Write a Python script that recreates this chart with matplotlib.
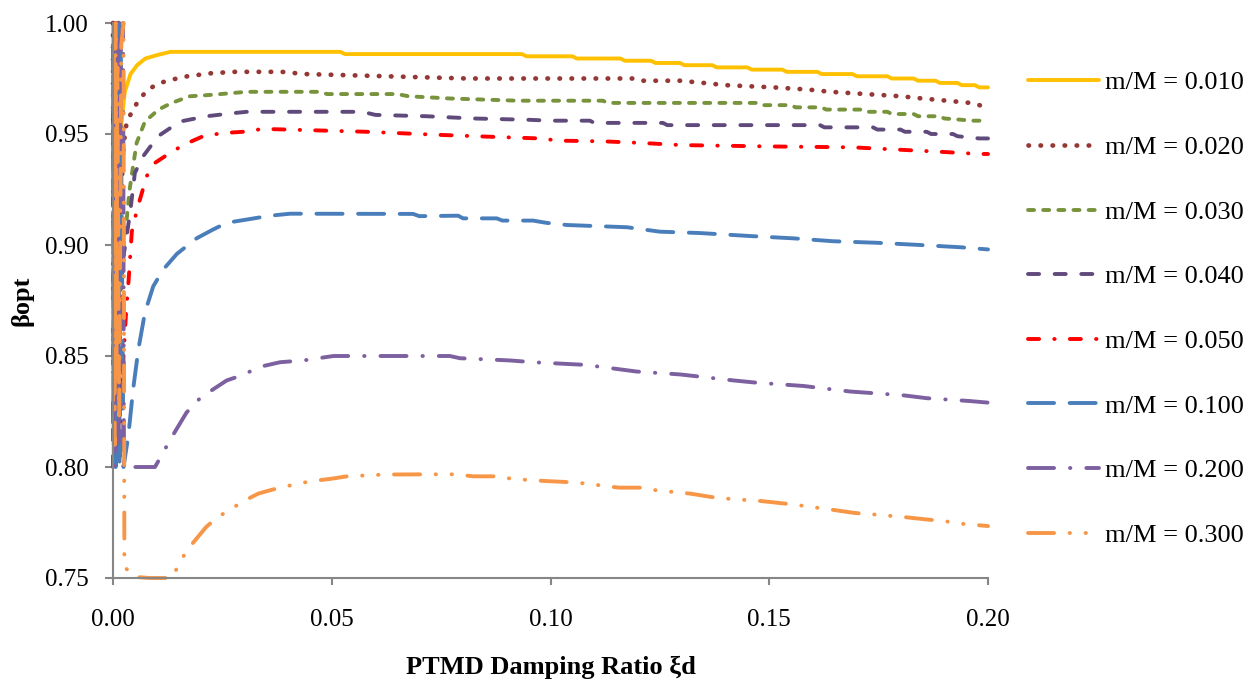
import matplotlib
matplotlib.use("Agg")
import matplotlib.pyplot as plt

plt.rcParams['font.family'] = ['Liberation Serif', 'DejaVu Serif']

# mass ratios and optimum frequency ratio vs damping ratio
labels = ['m/M = 0.010', 'm/M = 0.020', 'm/M = 0.030', 'm/M = 0.040',
          'm/M = 0.050', 'm/M = 0.100', 'm/M = 0.200', 'm/M = 0.300']

x_010 = [0.0000, 0.0002, 0.0004, 0.0006, 0.0008, 0.0010, 0.0013, 0.0017, 0.0021, 0.0027, 0.0040, 0.0055, 0.0074, 0.0100,
         0.0131, 0.0155, 0.0520, 0.0530, 0.0935, 0.0945, 0.1050, 0.1060, 0.1160, 0.1170, 0.1230, 0.1240, 0.1296, 0.1306,
         0.1370, 0.1380, 0.1450, 0.1460, 0.1530, 0.1540, 0.1610, 0.1620, 0.1690, 0.1700, 0.1770, 0.1780, 0.1830, 0.1840,
         0.1880, 0.1890, 0.1930, 0.1940, 0.1970, 0.1980, 0.2000]
y_010 = [1.000, 0.935, 1.000, 0.945, 0.995, 0.950, 1.000, 0.950, 0.958, 0.969, 0.977, 0.981, 0.984, 0.9855,
         0.987, 0.987, 0.987, 0.986, 0.986, 0.985, 0.985, 0.984, 0.984, 0.983, 0.983, 0.982, 0.982, 0.981,
         0.981, 0.980, 0.980, 0.979, 0.979, 0.978, 0.978, 0.977, 0.977, 0.976, 0.976, 0.975, 0.975, 0.974,
         0.974, 0.973, 0.973, 0.972, 0.972, 0.971, 0.971]

x_020 = [0.0000, 0.0002, 0.0004, 0.0006, 0.0008, 0.0010, 0.0013, 0.0018, 0.0024, 0.0031, 0.0043, 0.0058, 0.0075, 0.0096,
         0.0123, 0.0170, 0.0226, 0.0279, 0.0386, 0.0439, 0.0626, 0.0810, 0.1190, 0.1205, 0.1296, 0.1350, 0.1400, 0.1510,
         0.1590, 0.1640, 0.1720, 0.1800, 0.1850, 0.1906, 0.1960, 0.1980, 0.2000]
y_020 = [1.000, 0.820, 0.990, 0.800, 0.970, 0.830, 1.000, 0.920, 0.945, 0.955, 0.960, 0.965, 0.969, 0.972,
         0.974, 0.976, 0.9774, 0.978, 0.978, 0.977, 0.976, 0.975, 0.975, 0.974, 0.974, 0.973, 0.972, 0.971,
         0.970, 0.969, 0.968, 0.967, 0.966, 0.965, 0.964, 0.963, 0.962]

x_030 = [0.0000, 0.0002, 0.0004, 0.0006, 0.0008, 0.0010, 0.0013, 0.0018, 0.0024, 0.0032, 0.0038, 0.0047, 0.0054, 0.0073,
         0.0104, 0.0134, 0.0176, 0.0222, 0.0306, 0.0466, 0.0490, 0.0650, 0.0675, 0.0770, 0.0926, 0.1120, 0.1130, 0.1470,
         0.1480, 0.1550, 0.1560, 0.1620, 0.1630, 0.1710, 0.1720, 0.1770, 0.1780, 0.1830, 0.1840, 0.1890, 0.1900, 0.1966,
         0.2000]
y_030 = [0.990, 0.810, 1.000, 0.800, 0.980, 0.820, 0.970, 0.880, 0.900, 0.913, 0.925, 0.937, 0.946, 0.9556,
         0.961, 0.964, 0.967, 0.9676, 0.969, 0.969, 0.968, 0.968, 0.967, 0.966, 0.965, 0.965, 0.964, 0.964,
         0.963, 0.963, 0.962, 0.962, 0.961, 0.961, 0.960, 0.960, 0.959, 0.959, 0.958, 0.958, 0.957, 0.956,
         0.956]

x_040 = [0.0000, 0.0002, 0.0004, 0.0006, 0.0008, 0.0010, 0.0013, 0.0018, 0.0024, 0.0032, 0.0040, 0.0050, 0.0069, 0.0103,
         0.0153, 0.0214, 0.0275, 0.0306, 0.0570, 0.0600, 0.0717, 0.0823, 0.0950, 0.1000, 0.1090, 0.1100, 0.1257, 0.1267,
         0.1616, 0.1626, 0.1737, 0.1747, 0.1800, 0.1810, 0.1860, 0.1870, 0.1920, 0.1930, 0.1980, 0.2000]
y_040 = [0.800, 0.980, 0.810, 1.000, 0.800, 0.960, 0.830, 0.900, 0.895, 0.905, 0.916, 0.9325, 0.940, 0.949,
         0.9556, 0.958, 0.9594, 0.960, 0.960, 0.9586, 0.958, 0.957, 0.9564, 0.956, 0.956, 0.955, 0.955, 0.954,
         0.954, 0.953, 0.953, 0.952, 0.952, 0.951, 0.951, 0.950, 0.950, 0.949, 0.948, 0.948]

x_050 = [0.0000, 0.0002, 0.0004, 0.0006, 0.0008, 0.0010, 0.0013, 0.0018, 0.0024, 0.0030, 0.0036, 0.0043, 0.0055, 0.0077,
         0.0096, 0.0119, 0.0160, 0.0206, 0.0250, 0.0297, 0.0343, 0.0580, 0.0747, 0.0885, 0.0976, 0.1020, 0.1120, 0.1205,
         0.1300, 0.1500, 0.1690, 0.1790, 0.1890, 0.1980, 0.2000]
y_050 = [0.960, 0.800, 1.000, 0.820, 0.990, 0.800, 0.950, 0.820, 0.850, 0.870, 0.885, 0.906, 0.916, 0.931,
         0.937, 0.940, 0.945, 0.949, 0.9504, 0.951, 0.9523, 0.951, 0.9496, 0.9486, 0.948, 0.947, 0.9467, 0.946,
         0.945, 0.9444, 0.944, 0.943, 0.942, 0.941, 0.941]

x_100 = [0.0000, 0.0002, 0.0004, 0.0006, 0.0008, 0.0010, 0.0013, 0.0015, 0.0017, 0.0024, 0.0035, 0.0046, 0.0058, 0.0073,
         0.0092, 0.0115, 0.0146, 0.0191, 0.0229, 0.0260, 0.0313, 0.0359, 0.0405, 0.0686, 0.0700, 0.0789, 0.0800, 0.0877,
         0.0890, 0.0960, 0.0990, 0.1038, 0.1175, 0.1250, 0.1340, 0.1460, 0.1555, 0.1646, 0.1746, 0.1845, 0.1936, 0.2000]
y_100 = [0.990, 0.810, 1.000, 0.800, 0.970, 0.820, 1.000, 0.800, 0.990, 0.800, 0.814, 0.835, 0.853, 0.8696,
         0.8814, 0.889, 0.896, 0.903, 0.907, 0.910, 0.9117, 0.9132, 0.9141, 0.914, 0.913, 0.9132, 0.912, 0.912,
         0.911, 0.911, 0.910, 0.909, 0.908, 0.906, 0.9054, 0.904, 0.903, 0.9017, 0.901, 0.900, 0.899, 0.898]

x_200 = [0.0000, 0.0002, 0.0004, 0.0006, 0.0008, 0.0010, 0.0013, 0.0018, 0.0023, 0.0025, 0.0058, 0.0096, 0.0123, 0.0142,
         0.0168, 0.0199, 0.0229, 0.0260, 0.0290, 0.0313, 0.0344, 0.0382, 0.0435, 0.0504, 0.0770, 0.0793, 0.0907, 0.0960,
         0.1080, 0.1197, 0.1296, 0.1418, 0.1470, 0.1578, 0.1685, 0.1806, 0.1860, 0.1959, 0.2000]
y_200 = [0.820, 0.990, 0.800, 0.980, 0.830, 1.000, 0.810, 0.990, 1.000, 0.800, 0.800, 0.800, 0.8095, 0.816,
         0.8245, 0.831, 0.835, 0.839, 0.841, 0.843, 0.8455, 0.8472, 0.848, 0.850, 0.850, 0.849, 0.848, 0.8472,
         0.846, 0.843, 0.8417, 0.839, 0.838, 0.8365, 0.834, 0.8323, 0.831, 0.8297, 0.829]

x_300 = [0.0000, 0.0002, 0.0004, 0.0006, 0.0008, 0.0010, 0.0014, 0.0019, 0.0024, 0.0026, 0.0050, 0.0083, 0.0135, 0.0155,
         0.0174, 0.0194, 0.0213, 0.0240, 0.0269, 0.0299, 0.0332, 0.0364, 0.0390, 0.0423, 0.0456, 0.0495, 0.0535, 0.0620,
         0.0718, 0.0784, 0.0823, 0.0875, 0.0915, 0.0987, 0.1040, 0.1085, 0.1118, 0.1157, 0.1210, 0.1242, 0.1320, 0.1367,
         0.1406, 0.1480, 0.1537, 0.1570, 0.1642, 0.1695, 0.1734, 0.1806, 0.1858, 0.1898, 0.1937, 0.2000]
y_300 = [0.830, 0.990, 0.810, 1.000, 0.840, 0.980, 0.820, 0.990, 1.000, 0.755, 0.7505, 0.750, 0.750, 0.758,
         0.7637, 0.7685, 0.773, 0.7775, 0.781, 0.7847, 0.788, 0.7898, 0.791, 0.7925, 0.7937, 0.7946, 0.7958, 0.7966,
         0.7967, 0.7967, 0.7958, 0.7958, 0.7946, 0.7937, 0.7932, 0.7925, 0.7916, 0.7907, 0.7907, 0.7895, 0.788, 0.7865,
         0.7857, 0.7847, 0.7835, 0.7827, 0.7808, 0.7793, 0.7787, 0.7775, 0.7764, 0.7757, 0.7745, 0.7734]

xs = [x_010, x_020, x_030, x_040, x_050, x_100, x_200, x_300]
ys = [y_010, y_020, y_030, y_040, y_050, y_100, y_200, y_300]

colores = ['#FFC000', '#953735', '#77933C', '#604A7B', '#FF0000', '#4A7EBB', '#7D60A0', '#F79646']
grosor = [2.8, 3.4, 2.8, 2.8, 2.8, 2.8, 2.8, 2.8]
estilos = ['-',
           (0, (0.1, 2.45)),
           (0, (1.55, 2.35)),
           (0, (2.85, 4.0)),
           (0, (2.85, 3.9, 0.1, 3.9)),
           (0, (6.7, 4.0)),
           (0, (6.7, 4.1, 0.1, 4.1)),
           (0, (6.7, 4.0, 0.1, 4.0, 0.1, 4.0))]

fig = plt.figure(figsize=(12.59, 6.87), dpi=100)
ax = fig.add_axes([113 / 1259, 109 / 687, 875 / 1259, 555 / 687])

for i in range(len(xs)):
    ax.plot(xs[i], ys[i], color=colores[i], linestyle=estilos[i], linewidth=grosor[i],
            dash_capstyle='round', solid_capstyle='round', label=labels[i], clip_on=False)

ax.set_xlim(0, 0.2)
ax.set_ylim(0.75, 1.0)
ax.set_xticks([0.00, 0.05, 0.10, 0.15, 0.20])
ax.set_yticks([0.75, 0.80, 0.85, 0.90, 0.95, 1.00])
ax.xaxis.set_major_formatter(matplotlib.ticker.FormatStrFormatter('%.2f'))
ax.yaxis.set_major_formatter(matplotlib.ticker.FormatStrFormatter('%.2f'))

for s in ['top', 'right']:
    ax.spines[s].set_visible(False)
for s in ['left', 'bottom']:
    ax.spines[s].set_color('#868686')
    ax.spines[s].set_linewidth(1.5)

ax.tick_params(axis='x', direction='out', length=5, width=1.5, color='#868686', labelsize=18, pad=17)
ax.tick_params(axis='y', direction='out', length=5.5, width=1.5, color='#868686', labelsize=18, pad=12)

ax.set_xlabel('PTMD Damping Ratio ξd', fontsize=19, fontweight='bold', va='center')
ax.xaxis.set_label_coords(0.5, -0.162)
ax.set_ylabel('βopt', fontsize=19, fontweight='bold', va='center')
ax.yaxis.set_label_coords(-0.104, 0.5)

ax.legend(loc='upper left', bbox_to_anchor=(1028 / 1259, 1 - 71 / 687), bbox_transform=fig.transFigure,
          frameon=False, fontsize=19, handlelength=2.7, handletextpad=0.23, labelspacing=1.56,
          borderpad=0, borderaxespad=0)

fig.savefig('out.png', dpi=100)
